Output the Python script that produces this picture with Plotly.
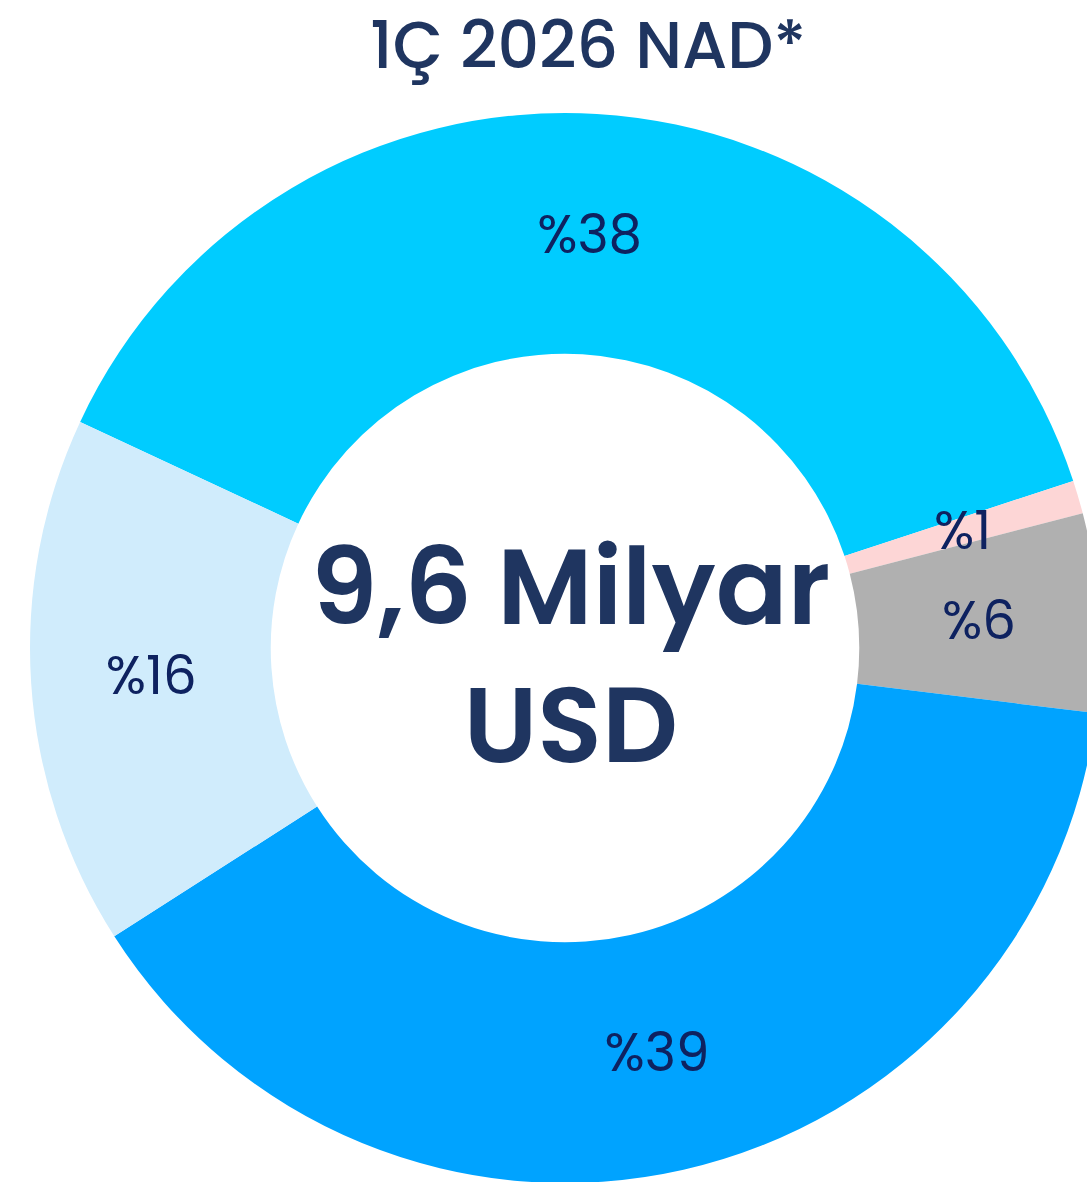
import math
import plotly.graph_objects as go

# ---- data ----
categories = ["Dilim A", "Dilim B", "Dilim C", "Dilim D", "Dilim E"]
shares = [38, 1, 6, 39, 16]
slice_colors = ["#00CCFF", "#FDD6D6", "#B0B0B0", "#00A3FF", "#D0ECFC"]
share_labels = ["%" + str(v) for v in shares]
title_text = "1Ç 2026 NAD*"
center_text = "9,6 Milyar<br>USD"

# ---- layout geometry ----
W, H = 1130, 1184
CX, TOP, R = 565, 113, 535
HOLE = 0.55
ROT = -65
FONT = "Poppins, Open Sans, sans-serif"
LABEL_COLOR = "#0E2260"
LABEL_SIZE = 53

small = [v < 10 for v in shares]
pie_text = ["" if s else t for s, t in zip(small, share_labels)]

fig = go.Figure(
    go.Pie(
        labels=categories,
        values=shares,
        sort=False,
        direction="clockwise",
        rotation=ROT,
        hole=HOLE,
        marker=dict(colors=slice_colors, line=dict(width=0)),
        text=pie_text,
        textinfo="text",
        textposition="inside",
        insidetextorientation="horizontal",
        textfont=dict(family=FONT, size=LABEL_SIZE, color=LABEL_COLOR),
        hoverinfo="label+percent",
        showlegend=False,
        domain=dict(x=[0, 1], y=[(H - TOP - 2 * R) / H, (H - TOP) / H]),
    )
)

# labels for narrow slices: placed on the slice bisector, mid-ring
total = sum(shares)
cy = TOP + R
rmid = R * (1 + HOLE) / 2
cum = 0
for v, lab, s in zip(shares, share_labels, small):
    mid = ROT + 360 * (cum + v / 2) / total
    cum += v
    if not s:
        continue
    a = math.radians(mid)
    px = CX + rmid * math.sin(a)
    py = cy - rmid * math.cos(a)
    fig.add_annotation(
        text=lab, x=px / W, y=1 - py / H, xref="paper", yref="paper",
        showarrow=False, xanchor="center", yanchor="middle",
        font=dict(family=FONT, size=LABEL_SIZE, color=LABEL_COLOR),
    )

fig.add_annotation(
    text=title_text, x=588 / W, y=1 - 46 / H, xref="paper", yref="paper",
    showarrow=False, xanchor="center", yanchor="middle",
    font=dict(family=FONT, size=65, color="#1F3560", weight=500),
)
fig.add_annotation(
    text=center_text, x=570 / W, y=1 - 656 / H, xref="paper", yref="paper",
    showarrow=False, xanchor="center", yanchor="middle",
    font=dict(family=FONT, size=106, color="#1F3560", weight=600),
)

fig.update_layout(
    width=W, height=H,
    margin=dict(l=0, r=0, t=0, b=0),
    paper_bgcolor="white", plot_bgcolor="white",
    uniformtext=dict(minsize=LABEL_SIZE, mode="show"),
)

fig.write_html(
    "out.html",
    config={"displayModeBar": False},
    post_script="document.body.style.margin='0';document.documentElement.style.overflow='hidden';",
)
